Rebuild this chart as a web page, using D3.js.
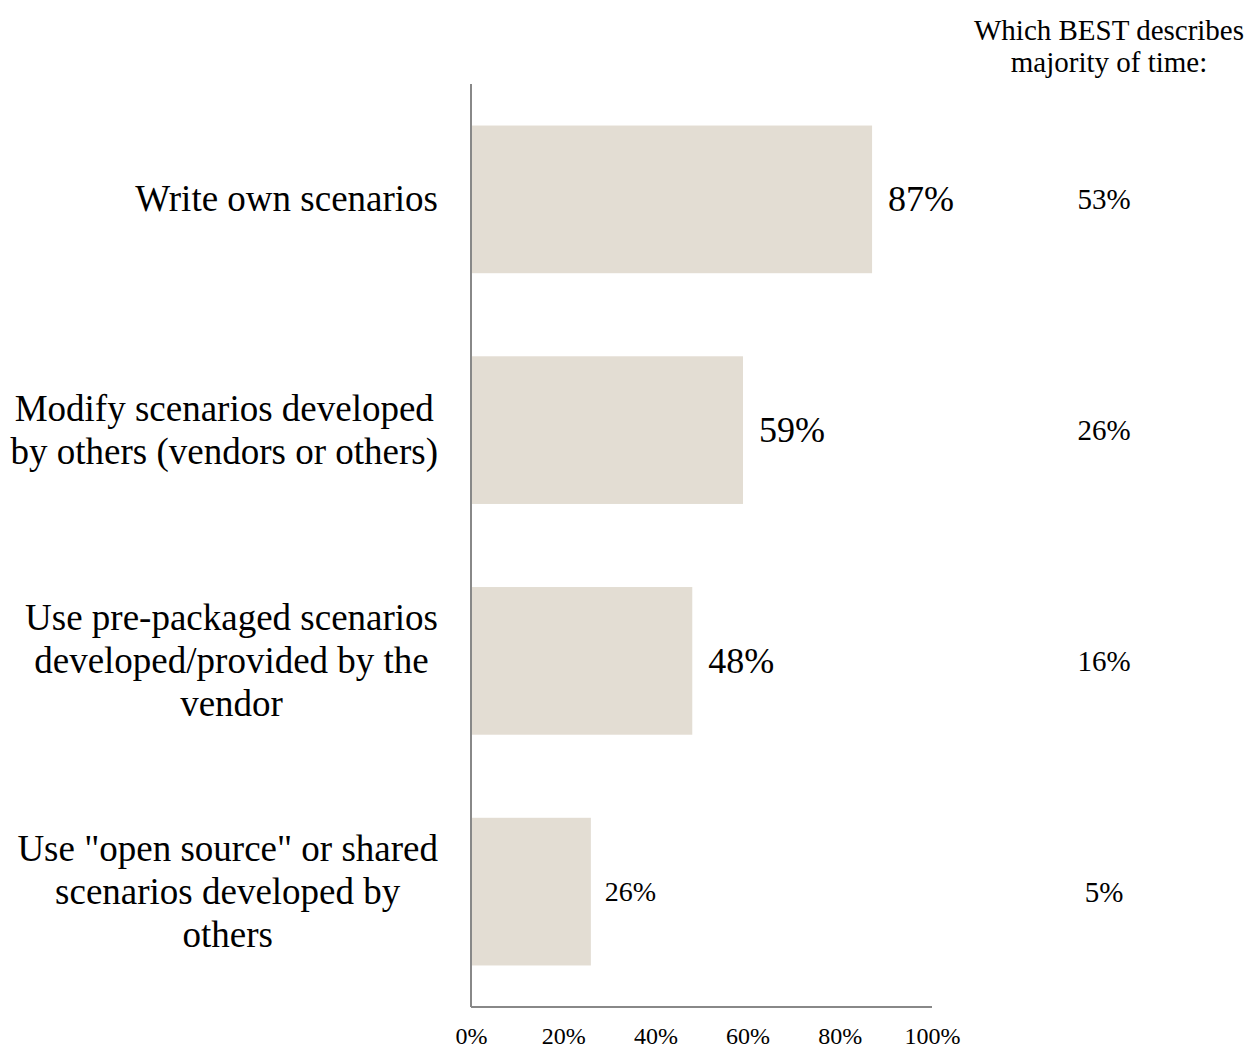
<!DOCTYPE html>
<html>
<head>
<meta charset="utf-8">
<script src="https://cdn.jsdelivr.net/npm/d3@7"></script>
<style>
  html, body { margin: 0; padding: 0; background: #fff; }
  svg text { font-family: "Liberation Serif", "Times New Roman", serif; fill: #000; }
</style>
</head>
<body>
<svg id="chart" width="1247" height="1051"></svg>
<script>
// Share of respondents using each scenario approach, plus the share saying it best describes most of their time
const categories = [
  ["Write own scenarios"],
  ["Modify scenarios developed", "by others (vendors or others)"],
  ["Use pre-packaged scenarios", "developed/provided by the", "vendor"],
  ["Use \"open source\" or shared", "scenarios developed by", "others"]
];
const usedValues = [87, 59, 48, 26];
const bestValues = [53, 26, 16, 5];
const xTicks = [0, 20, 40, 60, 80, 100];
const sideHeader = ["Which BEST describes", "majority of time:"];

const svg = d3.select("#chart");
const plotLeft = 471, plotRight = 932, plotTop = 84, plotBottom = 1007;

const x = d3.scaleLinear().domain([0, 100]).range([plotLeft, plotRight]);
const y = d3.scaleBand().domain(d3.range(categories.length)).range([plotTop, plotBottom])
  .paddingInner(0.36).paddingOuter(0.18);

// bars
svg.append("g").selectAll("rect").data(usedValues).join("rect")
  .attr("x", x(0))
  .attr("y", (d, i) => y(i))
  .attr("width", d => x(d) - x(0))
  .attr("height", y.bandwidth())
  .attr("fill", "#e3ddd3");

// axis lines
svg.append("line").attr("x1", plotLeft).attr("x2", plotLeft).attr("y1", plotTop).attr("y2", plotBottom)
  .attr("stroke", "#888").attr("stroke-width", 2);
svg.append("line").attr("x1", plotLeft).attr("x2", plotRight).attr("y1", plotBottom).attr("y2", plotBottom)
  .attr("stroke", "#888").attr("stroke-width", 2);

// x tick labels
const xAxis = d3.axisBottom(x).tickValues(xTicks).tickFormat(d => d + "%").tickSize(0).tickPadding(0);
const gx = svg.append("g").attr("transform", `translate(0,${plotBottom + 20})`).call(xAxis);
gx.select(".domain").remove();
gx.selectAll("text").attr("font-size", 24).attr("font-family", "Liberation Serif, serif").attr("fill", "#000");

// category labels: lines centred within a block that is right-aligned against the axis
const labelRight = 438, lineH = 43;
categories.forEach((lines, i) => {
  const g = svg.append("g");
  const cy = y(i) + y.bandwidth() / 2;
  const t = g.selectAll("text").data(lines).join("text")
    .attr("font-size", 37)
    .attr("text-anchor", "middle")
    .attr("y", (d, j) => cy + (j - (lines.length - 1) / 2) * lineH + 12)
    .text(d => d);
  const maxW = d3.max(t.nodes(), n => n.getComputedTextLength());
  t.attr("x", labelRight - maxW / 2);
});

// value labels beside bars
svg.append("g").selectAll("text").data(usedValues).join("text")
  .attr("x", d => x(d) + (d < 30 ? 14 : 16))
  .attr("y", (d, i) => y(i) + y.bandwidth() / 2 + (d < 30 ? 9 : 12))
  .attr("font-size", d => d < 30 ? 28 : 36)
  .text(d => d + "%");

// "best describes" column
svg.append("g").selectAll("text").data(bestValues).join("text")
  .attr("x", 1104)
  .attr("y", (d, i) => y(i) + y.bandwidth() / 2 + 10)
  .attr("text-anchor", "middle")
  .attr("font-size", 29)
  .text(d => d + "%");

svg.append("g").selectAll("text").data(sideHeader).join("text")
  .attr("x", 1109)
  .attr("y", (d, j) => 40 + j * 32)
  .attr("text-anchor", "middle")
  .attr("font-size", 29)
  .text(d => d);
</script>
</body>
</html>
